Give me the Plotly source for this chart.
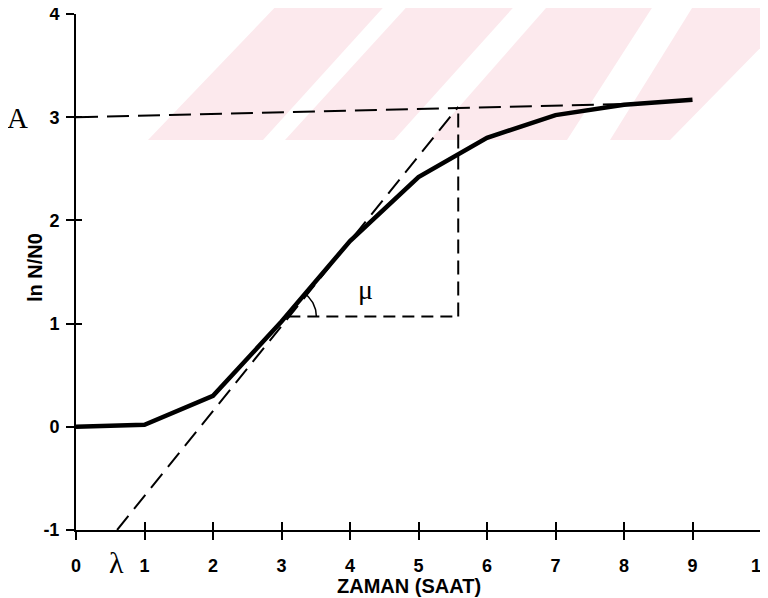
import numpy as np
import plotly.graph_objects as go

# ---- data ----
time_h = [0, 1, 2, 3, 4, 5, 6, 7, 8, 9]
ln_ratio = [0.0, 0.02, 0.30, 1.02, 1.80, 2.42, 2.80, 3.02, 3.12, 3.17]

tangent_x = [0.60, 5.58]
tangent_y = [-1.0, 3.10]

asym_x = [0.0, 8.2]
asym_y = [3.0, 3.13]

mu_h_x = [3.10, 5.58]
mu_h_y = [1.07, 1.07]
mu_v_x = [5.58, 5.58]
mu_v_y = [1.07, 3.10]

x_ticks = list(range(0, 11))
y_ticks = [-1, 0, 1, 2, 3, 4]
y_tick_text = ["-1", "0", "1", "2", "3", "4"]

# ---- layout geometry (page has an 8px body margin) ----
OFF = 8
W, H = 760, 590
L, R, T, B = 68, 7, 6, 68
PW, PH = W - L - R, H - T - B

def px2paper(px, py):
    fx, fy = px - OFF, py - OFF
    return (fx - L) / PW, (H - B - fy) / PH

fig = go.Figure()

# angle arc (computed in pixel space around the corner point)
xunit = PW / 10.0
yunit = PH / 5.0
ang_top = np.arctan((tangent_y[1] - tangent_y[0]) / (tangent_x[1] - tangent_x[0]) * yunit / xunit)
theta = np.linspace(0, ang_top, 30)
r_px = 28
arc_x = mu_h_x[0] + r_px * np.cos(theta) / xunit
arc_y = mu_h_y[0] + r_px * np.sin(theta) / yunit

fig.add_trace(go.Scatter(x=asym_x, y=asym_y, mode="lines",
                         line=dict(color="black", width=2, dash="22px,9px"),
                         hoverinfo="skip", showlegend=False))
fig.add_trace(go.Scatter(x=tangent_x, y=tangent_y, mode="lines",
                         line=dict(color="black", width=2, dash="18px,9px"),
                         hoverinfo="skip", showlegend=False))
fig.add_trace(go.Scatter(x=mu_h_x, y=mu_h_y, mode="lines",
                         line=dict(color="black", width=2, dash="12px,7px"),
                         hoverinfo="skip", showlegend=False))
fig.add_trace(go.Scatter(x=mu_v_x, y=mu_v_y, mode="lines",
                         line=dict(color="black", width=2, dash="14px,7px"),
                         hoverinfo="skip", showlegend=False))
fig.add_trace(go.Scatter(x=arc_x, y=arc_y, mode="lines",
                         line=dict(color="black", width=1.5),
                         hoverinfo="skip", showlegend=False))
fig.add_trace(go.Scatter(x=time_h, y=ln_ratio, mode="lines",
                         line=dict(color="black", width=4.5),
                         hoverinfo="skip", showlegend=False))
# invisible trace for the crossing-tick overlay axes
fig.add_trace(go.Scatter(x=[0, 10], y=[-1, 4], xaxis="x2", yaxis="y2", mode="lines",
                         line=dict(width=0), opacity=0, hoverinfo="skip", showlegend=False))

tickfont = dict(family="Liberation Sans, Arial, sans-serif", size=18, color="black", weight="bold")

fig.update_layout(
    width=W, height=H,
    margin=dict(l=L, r=R, t=T, b=B, autoexpand=False),
    paper_bgcolor="white", plot_bgcolor="rgba(0,0,0,0)",
    xaxis=dict(range=[0, 10], tickvals=x_ticks, ticks="outside", ticklen=8, tickwidth=2,
               tickcolor="black", showline=True, linecolor="black", linewidth=2,
               showgrid=False, zeroline=False, tickfont=tickfont, ticklabelstandoff=10,
               ticklabeloverflow="allow", automargin=False),
    yaxis=dict(range=[-1, 4], tickvals=y_ticks, ticktext=y_tick_text, ticks="outside",
               ticklen=8, tickwidth=2,
               tickcolor="black", showline=True, linecolor="black", linewidth=2,
               showgrid=False, zeroline=False, tickfont=tickfont, ticklabelstandoff=3,
               ticklabeloverflow="allow", automargin=False),
    xaxis2=dict(range=[0, 10], tickvals=x_ticks, ticks="inside", ticklen=8, tickwidth=2,
                tickcolor="black", showticklabels=False, showline=False, showgrid=False,
                zeroline=False, overlaying="x", anchor="y2", side="bottom", automargin=False),
    yaxis2=dict(range=[-1, 4], tickvals=y_ticks, ticks="inside", ticklen=6, tickwidth=2,
                tickcolor="black", showticklabels=False, showline=False, showgrid=False,
                zeroline=False, overlaying="y", anchor="x2", side="left", automargin=False),
)

# pale pink watermark stripes from the scanned page
stripes = [
    [(148, 140), (263, 140), (390, 0), (282, 0)],
    [(285, 140), (394, 140), (520, 0), (413, 0)],
    [(430, 140), (567, 140), (657, 0), (553, 0)],
    [(610, 140), (670, 140), (768, 40), (768, 0), (697, 0)],
]
for poly in stripes:
    pts = [px2paper(x, y) for x, y in poly]
    path = "M " + " L ".join(f"{x:.4f},{y:.4f}" for x, y in pts) + " Z"
    fig.add_shape(type="path", path=path, xref="paper", yref="paper",
                  fillcolor="#fce9ed", line=dict(width=0), layer="below")

def label(px, py, text, font, angle=0):
    x, y = px2paper(px, py)
    fig.add_annotation(x=x, y=y, xref="paper", yref="paper", text=text, textangle=angle,
                       xanchor="center", yanchor="middle", showarrow=False, font=font)

sans_bold = lambda s: dict(family="Liberation Sans, Arial", size=s, color="black", weight="bold")
serif = lambda s: dict(family="Liberation Serif, Times New Roman, serif", size=s, color="black")

label(35, 268, "ln N/N0", sans_bold(20), angle=-90)
label(409, 586, "ZAMAN (SAAT)", sans_bold(20))
label(17, 118, "A", serif(29))
label(116, 562, "λ", serif(30))
label(365, 289, "μ", serif(28))

fig.write_html("out.html")
